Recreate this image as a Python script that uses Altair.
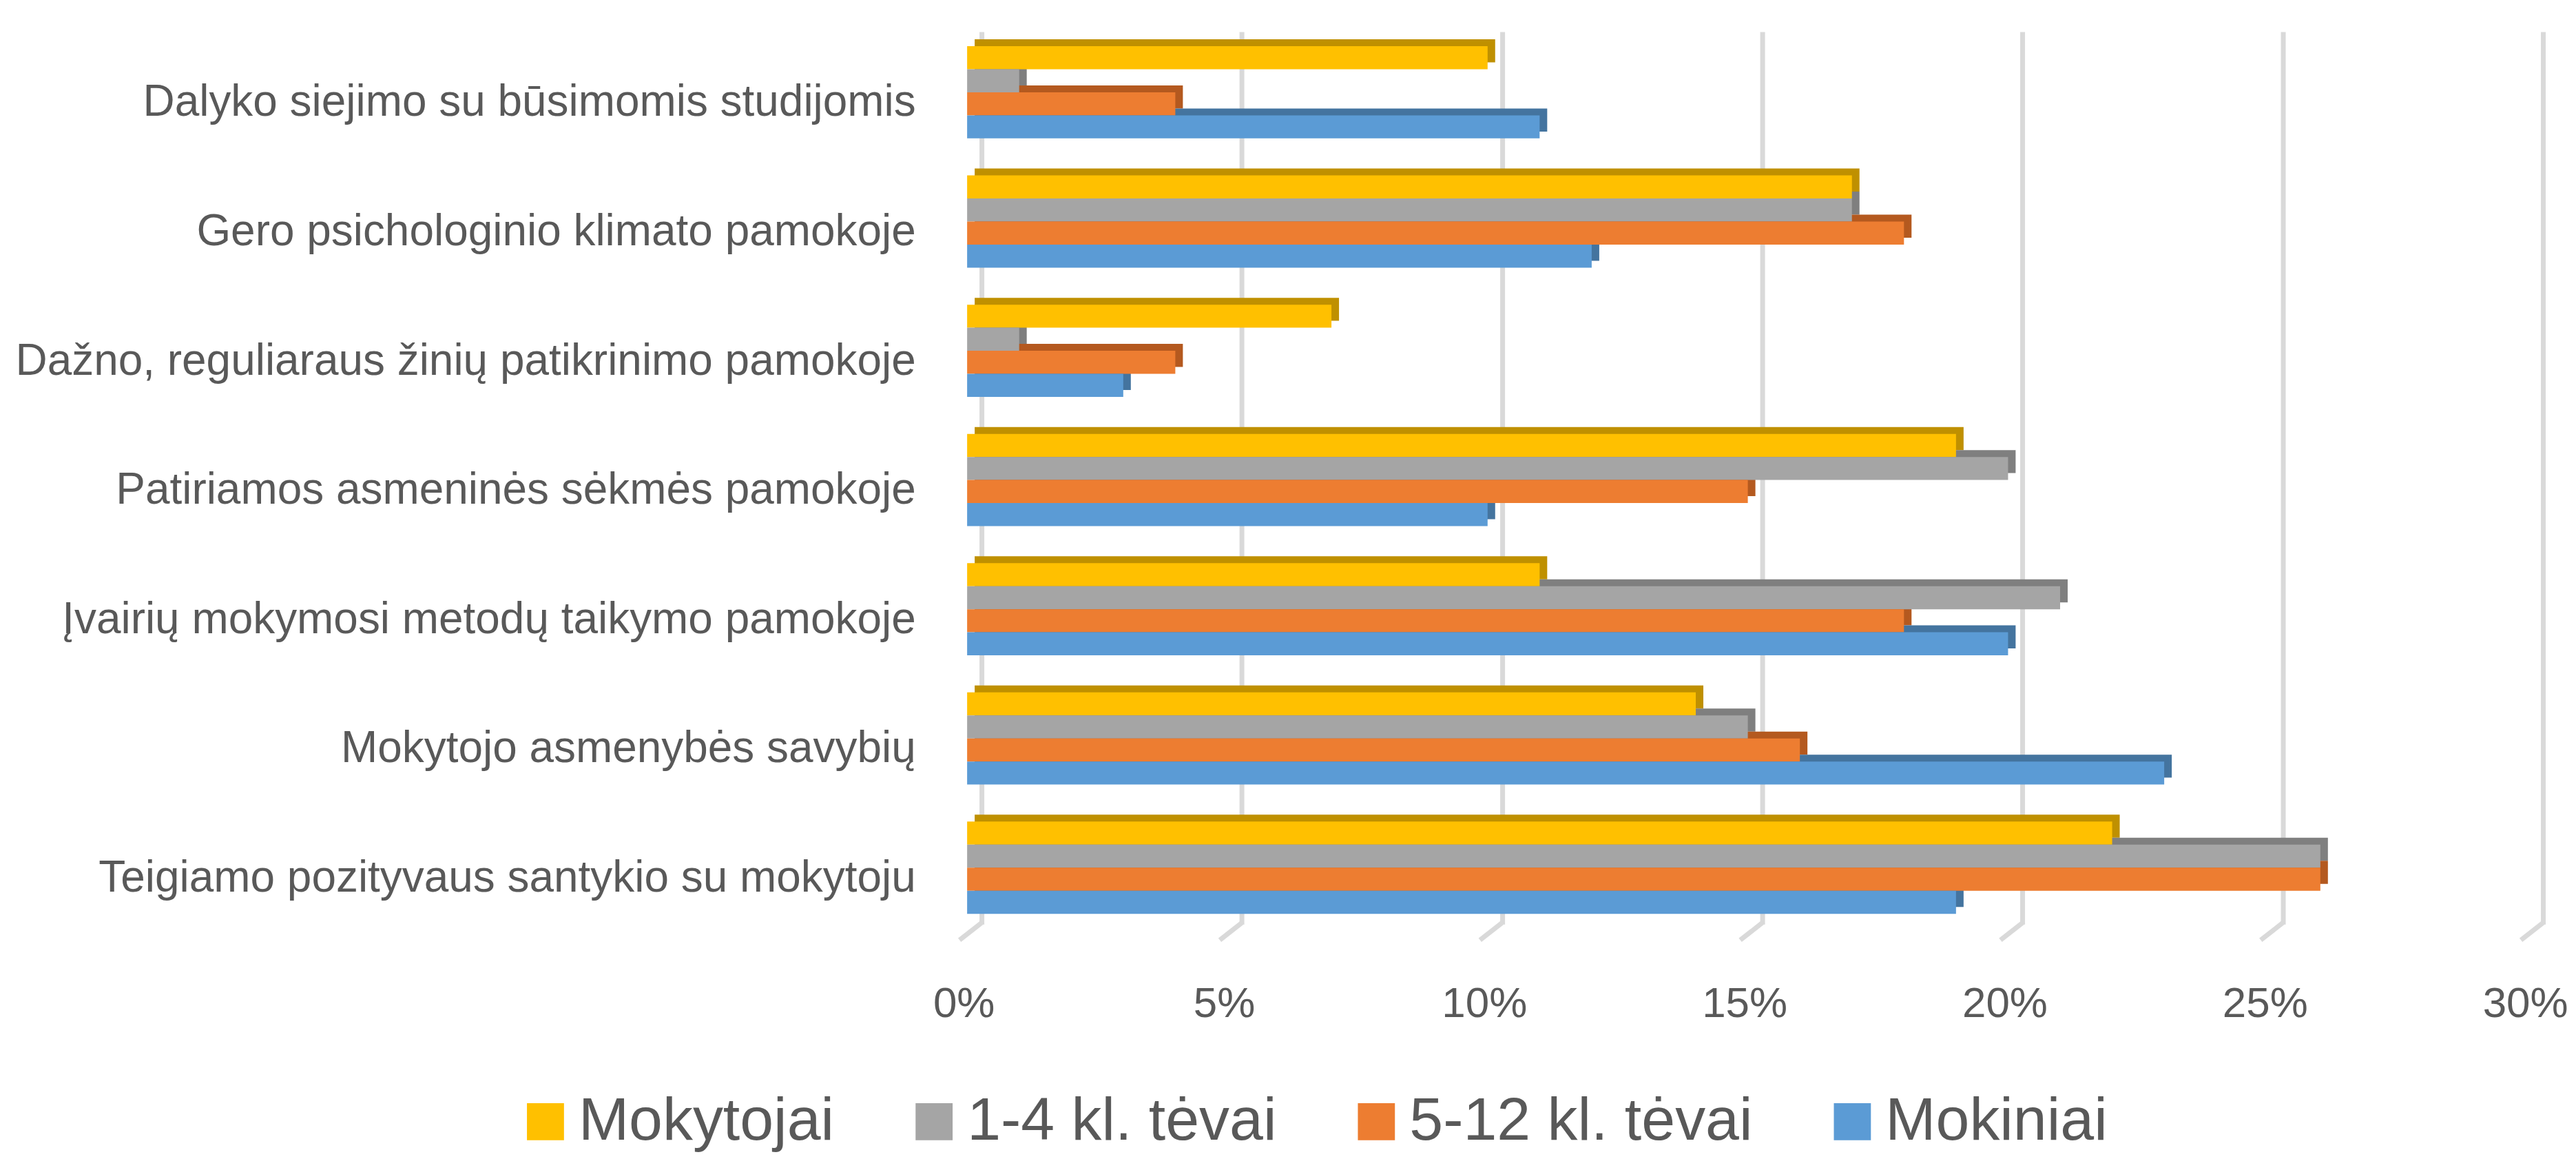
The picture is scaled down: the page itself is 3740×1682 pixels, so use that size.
import json
import altair as alt
import pandas as pd

categories = [
    "Dalyko siejimo su būsimomis studijomis",
    "Gero psichologinio klimato pamokoje",
    "Dažno, reguliaraus žinių patikrinimo pamokoje",
    "Patiriamos asmeninės sėkmės pamokoje",
    "Įvairių mokymosi metodų taikymo pamokoje",
    "Mokytojo asmenybės savybių",
    "Teigiamo pozityvaus santykio su mokytoju",
]
series = ["Mokytojai", "1-4 kl. tėvai", "5-12 kl. tėvai", "Mokiniai"]
mokytojai = [10, 17, 7, 19, 11, 14, 22]
tevai_1_4 = [1, 17, 1, 20, 21, 15, 26]
tevai_5_12 = [4, 18, 4, 15, 18, 16, 26]
mokiniai = [11, 12, 3, 10, 20, 23, 19]
x_ticks = [0, 0.05, 0.10, 0.15, 0.20, 0.25, 0.30]

face_colors = ["#FFC000", "#A5A5A5", "#ED7D31", "#5B9BD5"]
dark_colors = ["#BF9000", "#7F7F7F", "#B4591F", "#44749F"]

STEP = 5.606  # group pitch in bar-height units
values_by_series = [mokytojai, tevai_1_4, tevai_5_12, mokiniai]
rows = []
for si, s in enumerate(series):
    for ci, c in enumerate(categories):
        top = ci * STEP + si
        rows.append({"cat": c, "series": s, "value": values_by_series[si][ci] / 100,
                     "top": top, "bot": top + 1})
df = pd.DataFrame(rows)
grid_df = pd.DataFrame({"v": x_ticks})

W, H = 2270, 1297
FONT = "Liberation Sans"
TXT = "#595959"
GRID = "#D9D9D9"

yscale = alt.Scale(domain=[-0.627, -0.627 + H / 33.5], reverse=True, nice=False, zero=False)
xscale = alt.Scale(domain=[0, 0.30], nice=False)

label_expr = json.dumps(categories, ensure_ascii=False) + f"[round((datum.value - 2) / {STEP})]"
y_axis = alt.Axis(values=[ci * STEP + 2 for ci in range(len(categories))], labelExpr=label_expr,
                  title=None, domain=False, ticks=False, grid=False, labelFont=FONT,
                  labelFontSize=64, labelColor=TXT, labelPadding=96, labelBaseline="alphabetic",
                  labelOffset=34, labelLimit=2000)
x_axis = alt.Axis(values=x_ticks, format=".0%", title=None, domain=False, ticks=False,
                  grid=True, gridColor=GRID, gridWidth=7, labelFont=FONT, labelFontSize=62,
                  labelColor=TXT, labelPadding=134, labelBaseline="alphabetic", labelOffset=-26,
                  labelFlush=False, labelOverlap=False)

base = alt.Chart(df)

slant = alt.Chart(grid_df).mark_rule(color=GRID, strokeWidth=7, x2Offset=-32).encode(
    x=alt.X("v:Q", scale=xscale, axis=x_axis),
    x2="v:Q",
    y=alt.value(H - 2),
    y2=alt.value(H + 23),
)

dark = base.mark_bar(xOffset=-10, x2Offset=-10, yOffset=-10, y2Offset=-10).encode(
    x=alt.X("value:Q", scale=xscale, axis=x_axis),
    x2=alt.datum(0),
    y=alt.Y("top:Q", scale=yscale, axis=y_axis),
    y2="bot:Q",
    color=alt.Color("series:N", scale=alt.Scale(domain=series, range=dark_colors), legend=None),
)

face = base.mark_bar(xOffset=-21, x2Offset=-21).encode(
    x=alt.X("value:Q", scale=xscale, axis=x_axis),
    x2=alt.datum(0),
    y=alt.Y("top:Q", scale=yscale, axis=y_axis),
    y2="bot:Q",
    color=alt.Color("series:N", scale=alt.Scale(domain=series, range=face_colors),
                    sort=series,
                    legend=alt.Legend(title=None, orient="none", legendX=-678, legendY=1540,
                                      direction="horizontal", symbolType="square",
                                      symbolSize=2900, symbolStrokeWidth=0, labelFont=FONT,
                                      labelFontSize=88, labelColor=TXT, labelOffset=4,
                                      columnPadding=101, labelLimit=2000, padding=0)),
)

chart = alt.layer(slant, dark, face).resolve_scale(color="independent").properties(
    width=W, height=H,
    autosize=alt.AutoSizeParams(type="none"),
    padding={"left": 1419, "top": 37, "right": 40, "bottom": 332},
    background="white",
).configure_view(stroke=None)

chart.save("out.html", embed_options={"renderer": "svg", "actions": False})
